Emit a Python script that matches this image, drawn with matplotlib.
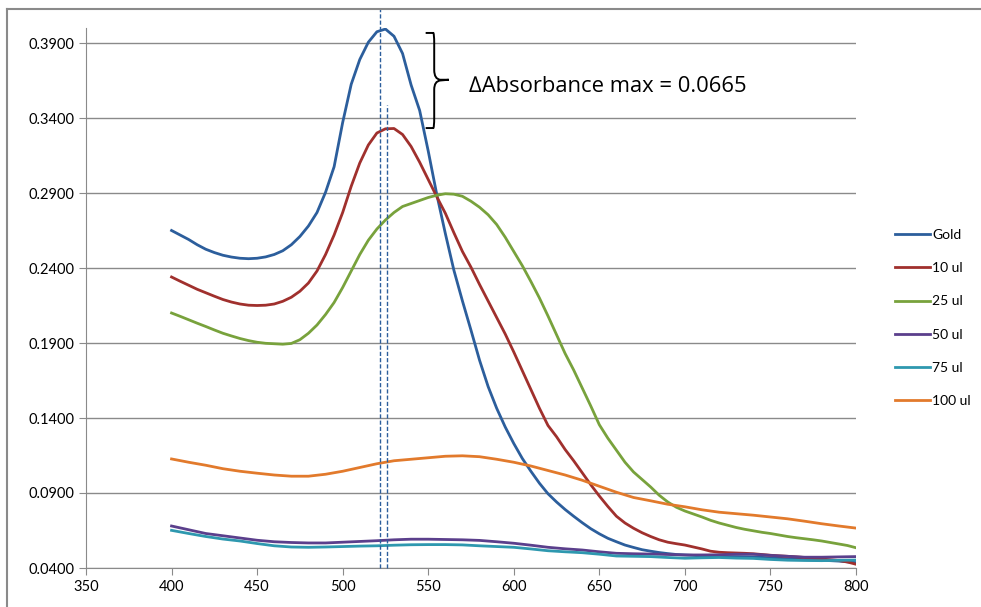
import matplotlib
matplotlib.use("Agg")
import matplotlib.pyplot as plt
from matplotlib.path import Path
import matplotlib.patches as patches

# longitud de onda (nm)
wl_fino = list(range(400, 801, 5))
wl = list(range(400, 801, 10))

gold = [0.2650, 0.2620, 0.2590, 0.2555, 0.2525, 0.2503, 0.2485, 0.2473, 0.2465, 0.2462,
        0.2465, 0.2474, 0.2490, 0.2515, 0.2555, 0.2610, 0.2680, 0.2770, 0.2905, 0.3075,
        0.3370, 0.3625, 0.3790, 0.3905, 0.3975, 0.3993, 0.3945, 0.3830, 0.3620, 0.3450,
        0.3180, 0.2890, 0.2630, 0.2385, 0.2180, 0.1985, 0.1785, 0.1610, 0.1465, 0.1340,
        0.1230, 0.1130, 0.1045, 0.0965, 0.0895, 0.0840, 0.0790, 0.0745, 0.0702, 0.0662,
        0.0628, 0.0598, 0.0575, 0.0553, 0.0537, 0.0522, 0.0512, 0.0503, 0.0496, 0.0490,
        0.0487, 0.0484, 0.0480, 0.0478, 0.0476, 0.0476, 0.0476, 0.0475, 0.0474, 0.0471,
        0.0468, 0.0465, 0.0462, 0.0459, 0.0456, 0.0454, 0.0452, 0.0449, 0.0446, 0.0441,
        0.0436]
ul10 = [0.2340, 0.2312, 0.2285, 0.2258, 0.2235, 0.2212, 0.2190, 0.2173, 0.2160, 0.2152,
        0.2150, 0.2152, 0.2160, 0.2178, 0.2205, 0.2245, 0.2300, 0.2380, 0.2490, 0.2620,
        0.2770, 0.2945, 0.3100, 0.3220, 0.3300, 0.3328, 0.3330, 0.3290, 0.3210, 0.3105,
        0.2990, 0.2875, 0.2765, 0.2635, 0.2510, 0.2405, 0.2290, 0.2180, 0.2070, 0.1960,
        0.1840, 0.1715, 0.1590, 0.1465, 0.1350, 0.1275, 0.1190, 0.1115, 0.1035, 0.0955,
        0.0880, 0.0810, 0.0745, 0.0700, 0.0665, 0.0635, 0.0610, 0.0588, 0.0572, 0.0562,
        0.0553, 0.0540, 0.0527, 0.0512, 0.0505, 0.0502, 0.0500, 0.0498, 0.0495, 0.0490,
        0.0485, 0.0481, 0.0478, 0.0474, 0.0470, 0.0465, 0.0460, 0.0455, 0.0450, 0.0440,
        0.0425]
ul25 = [0.2100, 0.2078, 0.2055, 0.2032, 0.2010, 0.1987, 0.1965, 0.1947, 0.1930, 0.1916,
        0.1905, 0.1898, 0.1895, 0.1892, 0.1897, 0.1922, 0.1965, 0.2020, 0.2090, 0.2170,
        0.2270, 0.2380, 0.2490, 0.2585, 0.2660, 0.2720, 0.2770, 0.2810, 0.2830, 0.2850,
        0.2870, 0.2885, 0.2895, 0.2892, 0.2878, 0.2845, 0.2805, 0.2755, 0.2690, 0.2605,
        0.2510, 0.2415, 0.2310, 0.2200, 0.2080, 0.1955, 0.1830, 0.1720, 0.1600, 0.1480,
        0.1355, 0.1265, 0.1185, 0.1105, 0.1040, 0.0990, 0.0940, 0.0885, 0.0840, 0.0805,
        0.0780, 0.0760, 0.0740, 0.0718, 0.0700, 0.0685, 0.0670, 0.0658, 0.0648, 0.0638,
        0.0630, 0.0620, 0.0610, 0.0602, 0.0595, 0.0588, 0.0580, 0.0570, 0.0560, 0.0550,
        0.0535]
ul50 = [0.0680, 0.0655, 0.0630, 0.0615, 0.0600, 0.0585, 0.0575, 0.0570, 0.0567, 0.0567,
        0.0572, 0.0577, 0.0582, 0.0588, 0.0592, 0.0592, 0.0590, 0.0588, 0.0584, 0.0575,
        0.0565, 0.0552, 0.0538, 0.0528, 0.0520, 0.0508, 0.0498, 0.0495, 0.0493, 0.0490,
        0.0487, 0.0487, 0.0488, 0.0492, 0.0492, 0.0484, 0.0478, 0.0472, 0.0472, 0.0474, 0.0476]
ul75 = [0.0651, 0.0630, 0.0610, 0.0593, 0.0580, 0.0563, 0.0548, 0.0540, 0.0538, 0.0540,
        0.0543, 0.0546, 0.0548, 0.0552, 0.0555, 0.0556, 0.0556, 0.0554, 0.0548, 0.0543,
        0.0538, 0.0527, 0.0515, 0.0508, 0.0502, 0.0492, 0.0480, 0.0478, 0.0476, 0.0470,
        0.0465, 0.0468, 0.0470, 0.0466, 0.0464, 0.0457, 0.0452, 0.0450, 0.0449, 0.0451, 0.0453]
ul100 = [0.1127, 0.1105, 0.1085, 0.1062, 0.1045, 0.1032, 0.1020, 0.1012, 0.1012, 0.1025,
         0.1045, 0.1070, 0.1095, 0.1115, 0.1125, 0.1135, 0.1145, 0.1148, 0.1142, 0.1125,
         0.1105, 0.1080, 0.1050, 0.1020, 0.0985, 0.0945, 0.0905, 0.0870, 0.0848, 0.0825,
         0.0808, 0.0788, 0.0772, 0.0762, 0.0752, 0.0740, 0.0728, 0.0712, 0.0695, 0.0680, 0.0666]

pico_gold = 522
pico_10 = 526

colores = {
    "Gold": "#2C5E9C",
    "10 ul": "#A0302D",
    "25 ul": "#78A23C",
    "50 ul": "#5B3F8C",
    "75 ul": "#2E98AF",
    "100 ul": "#E27A2C",
}

plt.rcParams["font.family"] = ["Lato", "DejaVu Sans"]

fig = plt.figure(figsize=(9.81, 6.07), dpi=100)
ax = fig.add_axes([86 / 981, 1 - 568 / 607, (856 - 86) / 981, (568 - 28) / 607])

ax.plot(wl_fino, gold, color=colores["Gold"], lw=2, label="Gold", zorder=3)
ax.plot(wl_fino, ul10, color=colores["10 ul"], lw=2, label="10 ul", zorder=3)
ax.plot(wl_fino, ul25, color=colores["25 ul"], lw=2, label="25 ul", zorder=3)
ax.plot(wl, ul50, color=colores["50 ul"], lw=2, label="50 ul", zorder=3)
ax.plot(wl, ul75, color=colores["75 ul"], lw=2, label="75 ul", zorder=3)
ax.plot(wl, ul100, color=colores["100 ul"], lw=2, label="100 ul", zorder=3)

ax.set_xlim(350, 800)
ax.set_ylim(0.04, 0.40)
ax.set_xticks(range(350, 801, 50))
yt = [0.04, 0.09, 0.14, 0.19, 0.24, 0.29, 0.34, 0.39]
ax.set_yticks(yt)
ax.set_yticklabels([f"{v:.4f}" for v in yt])
ax.grid(axis="y", color="#8a8a8a", lw=1)
ax.set_axisbelow(True)
for s in ["top", "right"]:
    ax.spines[s].set_visible(False)
for s in ["left", "bottom"]:
    ax.spines[s].set_color("#8a8a8a")
ax.tick_params(colors="#8a8a8a", labelcolor="black", labelsize=10.5, length=5)

# lineas de los maximos
ax.plot([pico_gold, pico_gold], [0.04, 0.4125], ls=(0, (3, 1.5)), color="#2C5E9C", lw=1, clip_on=False, zorder=4)
ax.plot([pico_10, pico_10], [0.04, 0.3487], ls=(0, (3, 1.5)), color="#2C5E9C", lw=1, clip_on=False, zorder=4)

# llave
verts = [(548.5, 0.3967), (553.0, 0.3967), (553.5, 0.3960), (553.5, 0.3900),
         (553.5, 0.3720), (553.5, 0.3660), (557.0, 0.3655), (562.0, 0.3655),
         (557.0, 0.3650), (553.5, 0.3645), (553.5, 0.3590),
         (553.5, 0.3400), (553.5, 0.3340), (553.0, 0.3333), (548.5, 0.3333)]
codes = [Path.MOVETO, Path.LINETO, Path.CURVE3, Path.CURVE3,
         Path.LINETO, Path.CURVE3, Path.CURVE3, Path.LINETO,
         Path.LINETO, Path.CURVE3, Path.CURVE3,
         Path.LINETO, Path.CURVE3, Path.CURVE3, Path.LINETO]
ax.add_patch(patches.PathPatch(Path(verts, codes), fill=False, lw=1.4, color="black", zorder=5))
ax.text(573.8, 0.3571, "\u2206Absorbance max = 0.0665", fontsize=15.8,
        family=["Open Sans", "DejaVu Sans"], va="baseline", ha="left")

leg = ax.legend(loc="center left", bbox_to_anchor=(895 / 981, 1 - 318 / 607),
                bbox_transform=fig.transFigure, frameon=False, fontsize=10,
                handlelength=2.5, handletextpad=0.2, labelspacing=1.52,
                borderpad=0, borderaxespad=0)

# marco de la imagen
fig.add_artist(plt.Line2D([7 / 981, 1], [1 - 9 / 607, 1 - 9 / 607], color="#8a8a8a", lw=1.5))
fig.add_artist(plt.Line2D([7 / 981, 7 / 981], [0, 1 - 9 / 607], color="#8a8a8a", lw=1.5))

fig.savefig("out.png", dpi=100)
